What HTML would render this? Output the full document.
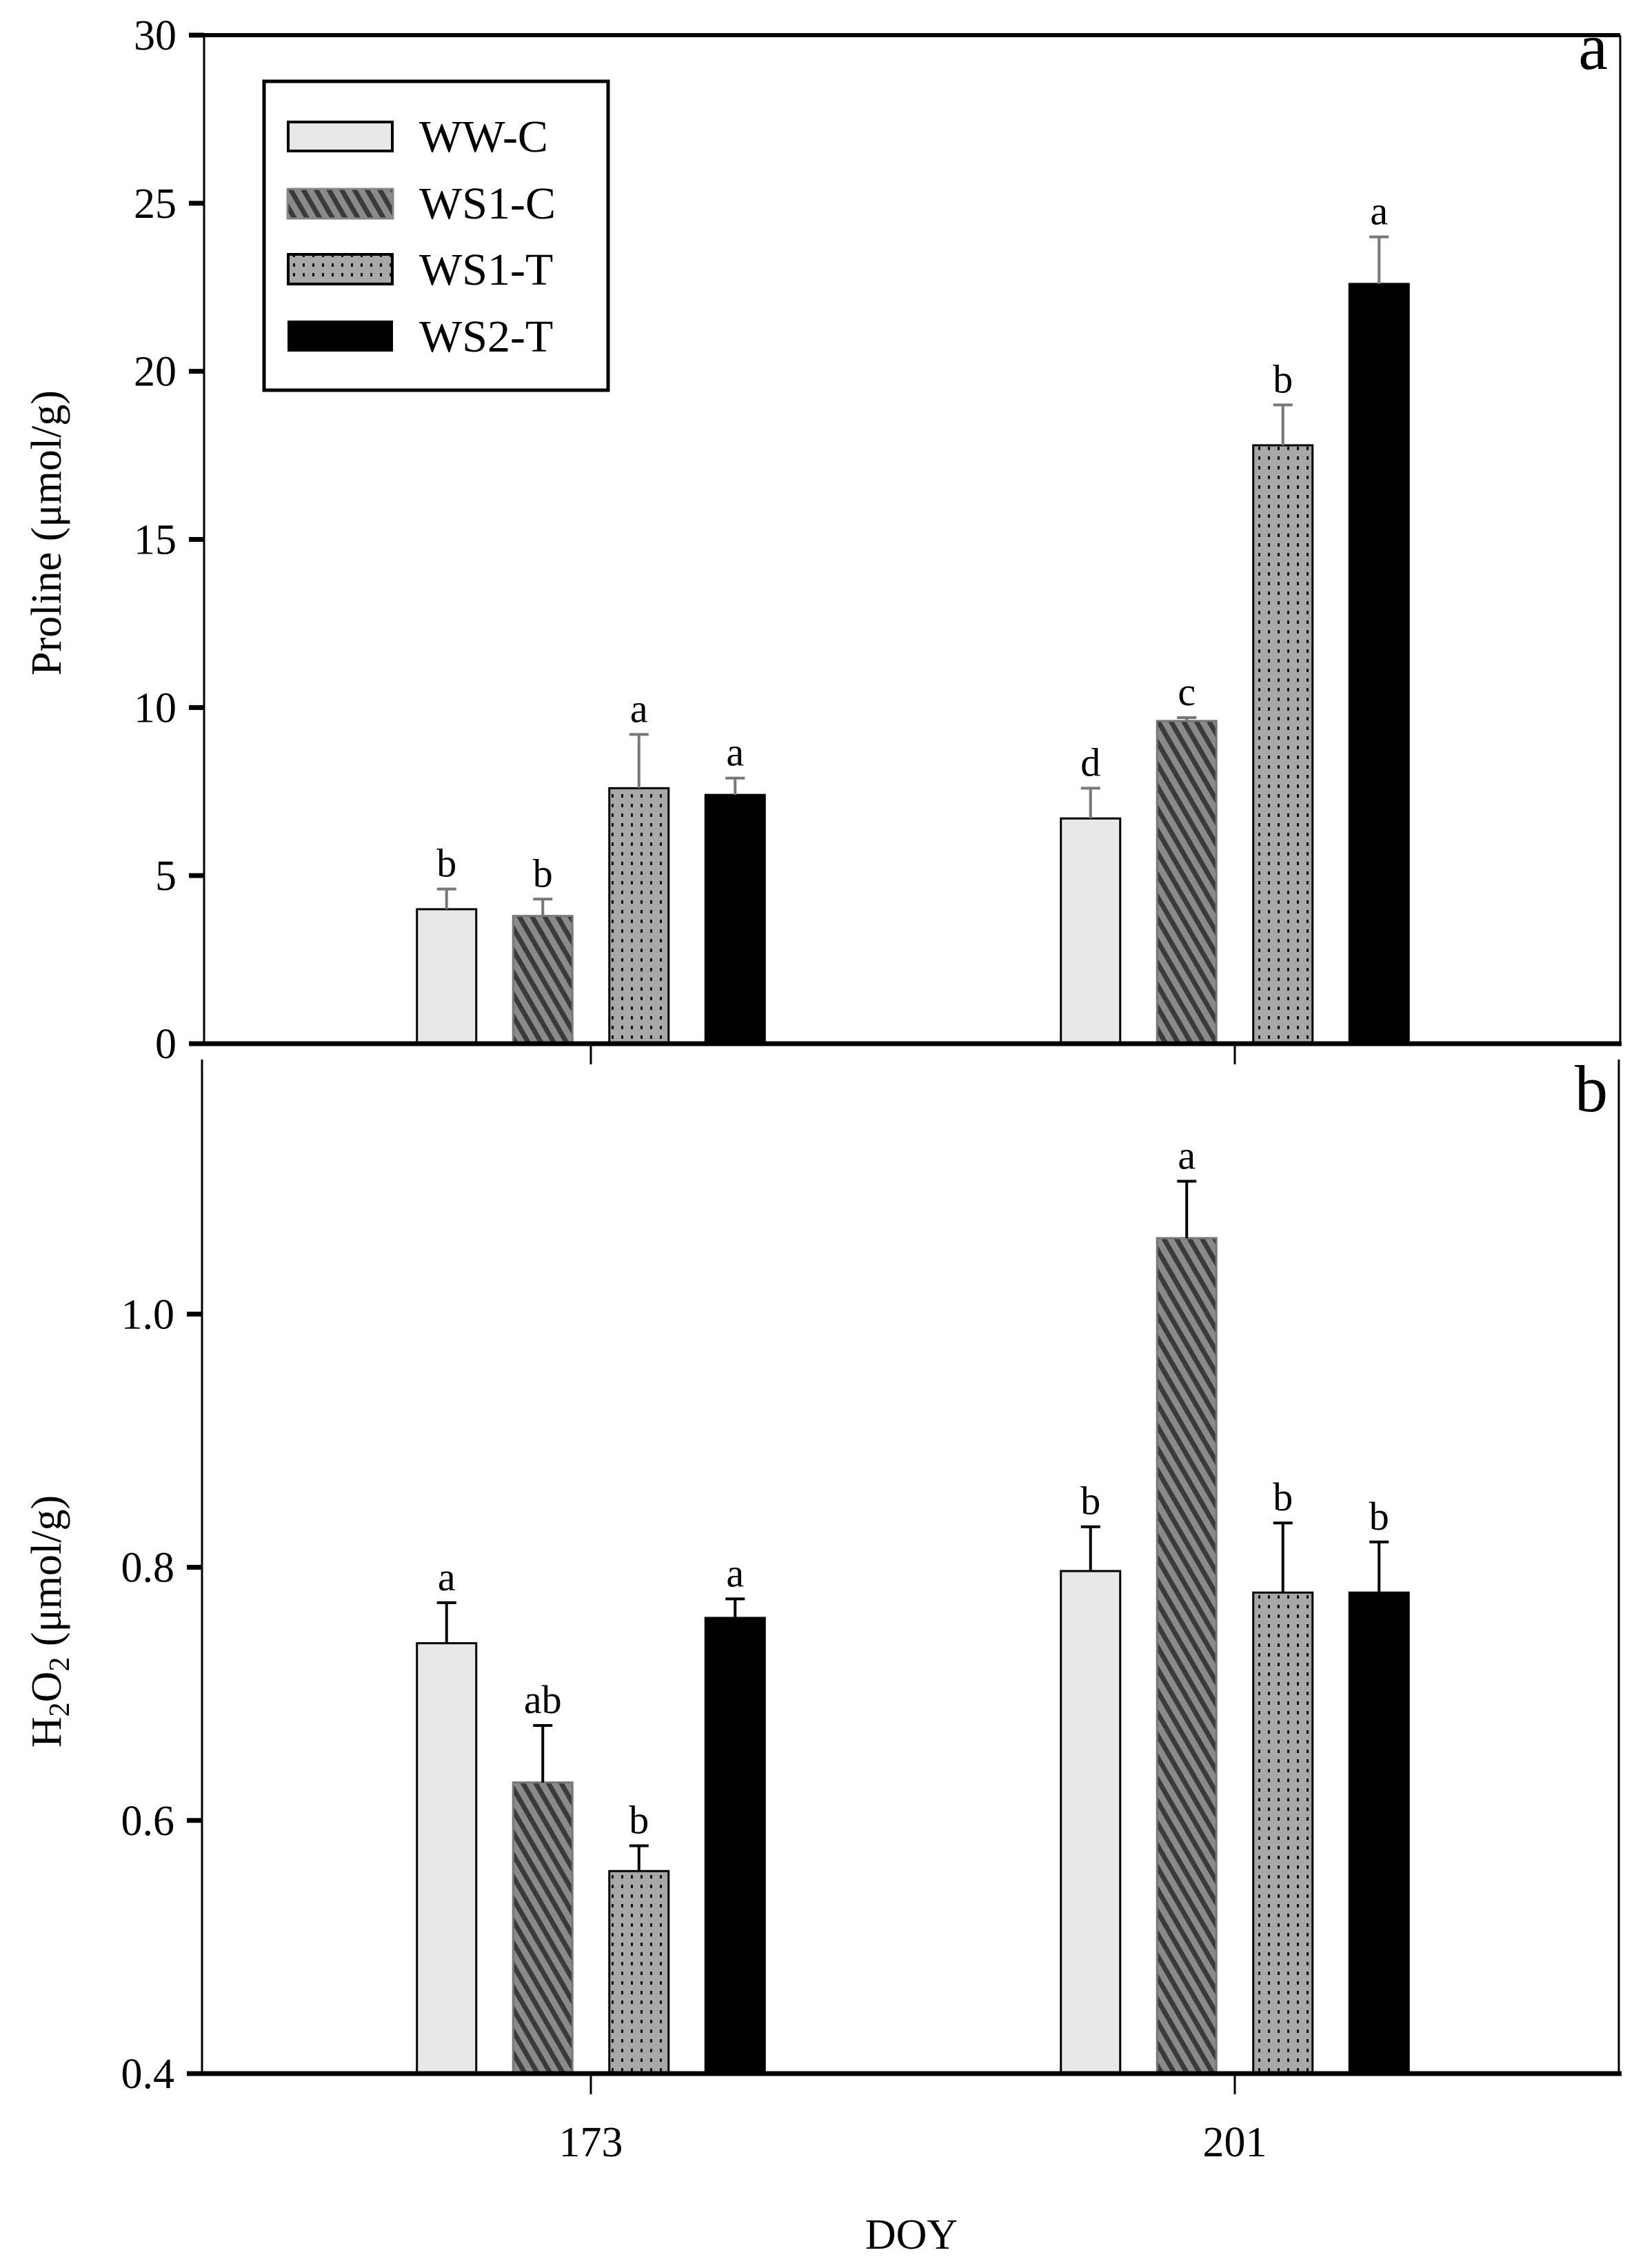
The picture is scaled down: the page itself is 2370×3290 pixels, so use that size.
<!DOCTYPE html>
<html><head><meta charset="utf-8"><style>
body{margin:0;background:#fff}
text{font-family:"Liberation Serif",serif;fill:#000}
</style></head><body>
<svg id="chart" width="2370" height="3285" xmlns="http://www.w3.org/2000/svg">
<defs>
<pattern id="hatch" width="16" height="16" patternUnits="userSpaceOnUse" patternTransform="rotate(-30)">
<rect width="16" height="16" fill="#8a8a8a"/><rect width="7" height="16" fill="#3a3a3a"/></pattern>
<pattern id="dots" width="14" height="14" patternUnits="userSpaceOnUse">
<rect width="14" height="14" fill="#a8a8a8"/><rect x="5" y="4" width="3" height="5" fill="#111"/></pattern>
</defs>
<g id="g"></g>
</svg>
<script>
const categories=["173","201"];
const series=["WW-C","WS1-C","WS1-T","WS2-T"];
const prolineVals=[[4.0,3.8,7.6,7.4],[6.7,9.6,17.8,22.6]];
const prolineErr=[[0.6,0.5,1.6,0.5],[0.9,0.1,1.2,1.4]];
const prolineLetters=[["b","b","a","a"],["d","c","b","a"]];
const h2o2Vals=[[0.74,0.63,0.56,0.76],[0.797,1.06,0.78,0.78]];
const h2o2Err=[[0.032,0.045,0.02,0.015],[0.035,0.045,0.055,0.04]];
const h2o2Letters=[["a","ab","b","a"],["b","a","b","b"]];
const prolineTicks=[0,5,10,15,20,25,30];
const h2o2Ticks=["0.4","0.6","0.8","1.0"];
const NS="http://www.w3.org/2000/svg";
const g=document.getElementById('g');
function el(t,a,txt){const e=document.createElementNS(NS,t);for(const k in a)e.setAttribute(k,a[k]);if(txt!==undefined)e.textContent=txt;g.appendChild(e);return e;}
const fills=["#e8e8e8","url(#hatch)","url(#dots)","#000"];
const strokes=["#000","#777","#000","#000"];
const groupX=i=>857+i*934;
const barX=(i,s)=>groupX(i)+(s-1.5)*139.5-43;
const BW=86;
function panel(p){
  const y=v=>p.bot-(v-p.min)/(p.max-p.min)*(p.bot-p.top);
  for(let i=0;i<categories.length;i++)for(let s=0;s<series.length;s++){
    const v=p.vals[i][s],e=p.err[i][s],x=barX(i,s);
    let r=el('rect',{x:x,y:y(v),width:BW,height:p.bot-y(v),fill:fills[s],stroke:strokes[s],'stroke-width':3});
    
    
    const cx=x+BW/2,ye=y(v+e);
    let l=el('path',{d:`M${cx},${y(v)}V${ye}M${cx-14},${ye}H${cx+14}`,stroke:p.ec,'stroke-width':4,fill:'none'});
    
    
    let t=el('text',{x:cx,y:ye-18,'font-size':58,'text-anchor':'middle'},p.letters[i][s]);
    
    
  }
  p.ticks.forEach(tv=>{const v=parseFloat(tv);
    let tk=el('line',{x1:p.left-22,x2:p.left,y1:y(v),y2:y(v),stroke:'#000','stroke-width':7});
    
    
    let tl=el('text',{x:p.left-40,y:y(v)+21,'font-size':62,'text-anchor':'end'},String(tv));
    
    
  });
  categories.forEach((c,i)=>{let tk=el('line',{x1:groupX(i),x2:groupX(i),y1:p.bot,y2:p.bot+30,stroke:'#000','stroke-width':3});
    
    });
}
el('path',{d:'M296,51V1514M2350,51V1514',stroke:'#000','stroke-width':3,fill:'none'});
el('line',{x1:296,x2:2350,y1:51,y2:51,stroke:'#000','stroke-width':6});
panel({id:'proline',top:51,bot:1514,left:296,min:0,max:30,vals:prolineVals,err:prolineErr,letters:prolineLetters,ticks:prolineTicks,ec:'#777'});
el('line',{x1:280,x2:2352,y1:1514,y2:1514,stroke:'#000','stroke-width':7});
el('path',{d:'M293,1537V3008M2348,1537V3008',stroke:'#000','stroke-width':3,fill:'none'});
panel({id:'h2o2',top:1539,bot:3008,left:293,min:0.4,max:1.2,vals:h2o2Vals,err:h2o2Err,letters:h2o2Letters,ticks:h2o2Ticks,ec:'#000'});
el('line',{x1:276,x2:2352,y1:3008,y2:3008,stroke:'#000','stroke-width':7});
</script>
<svg width="2370" height="3285" style="position:absolute;left:0;top:0" xmlns="http://www.w3.org/2000/svg">
<g>
<rect x="383" y="118" width="499" height="448" fill="none" stroke="#000" stroke-width="5"/>
<rect x="418" y="177" width="151" height="42" fill="#e8e8e8" stroke="#000" stroke-width="4"/>
<rect x="417" y="274" width="153" height="43" fill="url(#hatch)" stroke="#888" stroke-width="3"/>
<rect x="418" y="369" width="151" height="43" fill="url(#dots)" stroke="#000" stroke-width="4"/>
<rect x="417" y="465" width="153" height="45" fill="#000"/>
<text x="608" y="220" font-size="66">WW-C</text>
<text x="608" y="317" font-size="66">WS1-C</text>
<text x="608" y="413" font-size="66">WS1-T</text>
<text x="608" y="510" font-size="66">WS2-T</text>
</g>
<text x="2332" y="100" font-size="96" text-anchor="end">a</text>
<text x="2332" y="1612" font-size="96" text-anchor="end">b</text>
<text transform="translate(88,773) rotate(-90)" font-size="62" text-anchor="middle">Proline (μmol/g)</text>
<text transform="translate(88,2352) rotate(-90)" font-size="62" text-anchor="middle">H<tspan font-size="42" dy="12">2</tspan><tspan dy="-12">O</tspan><tspan font-size="42" dy="12">2</tspan><tspan dy="-12"> (μmol/g)</tspan></text>
<text x="857" y="3128" font-size="62" text-anchor="middle">173</text>
<text x="1791" y="3128" font-size="62" text-anchor="middle">201</text>
<text x="1322" y="3262" font-size="62" text-anchor="middle">DOY</text>
</svg>
</body></html>
